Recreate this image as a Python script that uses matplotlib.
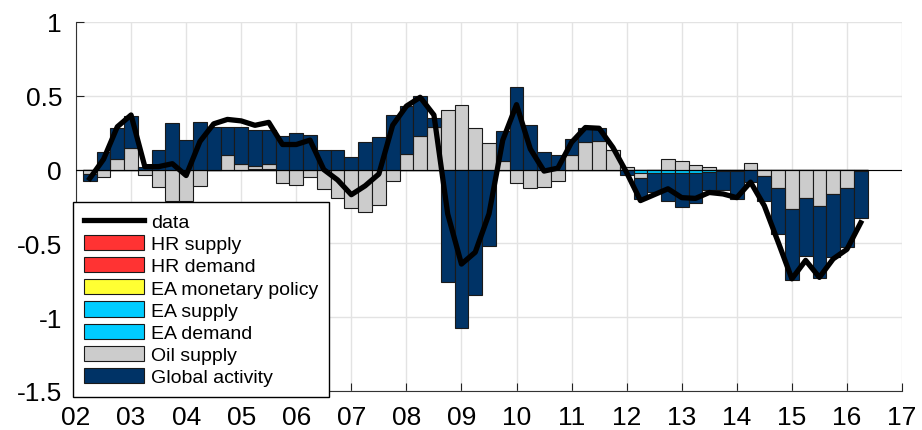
import matplotlib.pyplot as plt
import numpy as np

plt.rcParams["font.family"] = ["Liberation Sans", "DejaVu Sans"]

# quarterly dates, 2002Q2 .. 2016Q2
quarters = np.arange(2002.25, 2016.3, 0.25)

global_activity = [-0.05, 0.12, 0.21, 0.215, 0.02, 0.13, 0.315, 0.2, 0.32, 0.29,
                   0.19, 0.25, 0.24, 0.23, 0.23, 0.25, 0.235, 0.135, 0.135, 0.085,
                   0.185, 0.22, 0.37, 0.325, 0.27, 0.06, -0.76, -1.075, -0.85, -0.52,
                   0.2, 0.557, 0.30, 0.12, 0.1, 0.11, 0.1, 0.085, 0.0, -0.03,
                   -0.145, -0.13, -0.19, -0.23, -0.2, -0.125, -0.13, -0.19, -0.08, -0.17,
                   -0.31, -0.48, -0.39, -0.49, -0.43, -0.4, -0.32]
oil_supply = [-0.03, -0.05, 0.075, 0.147, -0.035, -0.12, -0.215, -0.21, -0.11, 0.0,
              0.1, 0.04, 0.02, 0.03, -0.09, -0.105, -0.05, -0.13, -0.19, -0.26,
              -0.29, -0.24, -0.075, 0.105, 0.23, 0.29, 0.405, 0.44, 0.28, 0.18,
              0.06, -0.093, -0.124, -0.12, -0.08, 0.1, 0.185, 0.195, 0.135, 0.02,
              -0.035, 0.0, 0.072, 0.056, 0.03, 0.015, 0.0, 0.0, 0.045, -0.04,
              -0.12, -0.27, -0.19, -0.24, -0.16, -0.125, 0.0]
ea_demand = [0.0, 0.0, 0.0, 0.0, 0.0, 0.0, 0.0, 0.0, 0.0, 0.0,
             0.0, 0.0, 0.005, 0.005, 0.0, 0.0, 0.0, 0.0, 0.0, 0.0,
             0.0, 0.0, 0.0, 0.0, 0.0, 0.0, 0.0, 0.0, 0.0, 0.0,
             0.0, 0.0, 0.0, 0.0, 0.0, 0.0, 0.0, 0.0, 0.0, -0.005,
             -0.02, -0.025, -0.025, -0.025, -0.025, -0.015, -0.01, -0.01, -0.005, 0.0,
             -0.005, 0.0, -0.005, -0.005, -0.005, 0.0, -0.01]
ea_supply = [0.0] * 57
ea_monetary = [0.0] * 57
hr_demand = [0.0] * 57
hr_supply = [0.0] * 57

data = [-0.06, 0.07, 0.29, 0.37, 0.02, 0.02, 0.04, -0.04, 0.19, 0.31,
        0.34, 0.33, 0.3, 0.32, 0.17, 0.17, 0.2, 0.0, -0.07, -0.17,
        -0.11, -0.03, 0.3, 0.43, 0.49, 0.37, -0.3, -0.64, -0.56, -0.3,
        0.2, 0.44, 0.14, -0.01, 0.01, 0.185, 0.285, 0.28, 0.15, -0.02,
        -0.21, -0.17, -0.13, -0.19, -0.195, -0.155, -0.165, -0.19, -0.085, -0.245,
        -0.49, -0.74, -0.615, -0.73, -0.605, -0.54, -0.36]

series = [("HR supply", hr_supply, "#ff3333"),
          ("HR demand", hr_demand, "#ff3333"),
          ("EA monetary policy", ea_monetary, "#ffff33"),
          ("EA supply", ea_supply, "#00ccff"),
          ("EA demand", ea_demand, "#00ccff"),
          ("Oil supply", oil_supply, "#cccccc"),
          ("Global activity", global_activity, "#003366")]

year_ticks = np.arange(2002, 2018)
year_labels = ["02", "03", "04", "05", "06", "07", "08", "09",
               "10", "11", "12", "13", "14", "15", "16", "17"]
y_ticks = [-1.5, -1, -0.5, 0, 0.5, 1]
y_labels = ["-1.5", "-1", "-0.5", "0", "0.5", "1"]

fig = plt.figure(figsize=(9.22, 4.31), dpi=100)
ax = fig.add_axes([76 / 922, 39 / 431, 826 / 922, 369 / 431])

pos_bottom = np.zeros(len(quarters))
neg_bottom = np.zeros(len(quarters))
handles = []
for name, vals, col in series:
    vals = np.array(vals)
    bottom = np.where(vals >= 0, pos_bottom, neg_bottom)
    b = ax.bar(quarters, vals, width=0.25, bottom=bottom, color=col,
               edgecolor="#1a1a1a", linewidth=0.8, label=name, zorder=2)
    handles.append(b)
    pos_bottom = pos_bottom + np.where(vals >= 0, vals, 0)
    neg_bottom = neg_bottom + np.where(vals < 0, vals, 0)

ax.axhline(0, color="black", linewidth=0.8, zorder=3)
line, = ax.plot(quarters, data, color="black", linewidth=3.8, label="data", zorder=4)

ax.set_xlim(2002, 2017)
ax.set_ylim(-1.5, 1)
ax.set_xticks(year_ticks)
ax.set_xticklabels(year_labels)
ax.set_yticks(y_ticks)
ax.set_yticklabels(y_labels)
ax.tick_params(direction="in", length=6, labelsize=19, colors="#222222")
ax.tick_params(axis="x", pad=10)
ax.tick_params(axis="y", pad=10)
for lab in ax.get_xticklabels() + ax.get_yticklabels():
    lab.set_color("black")
ax.grid(True, color="#e3e3e3", linewidth=1.0, zorder=0)
ax.set_axisbelow(True)
ax.spines["top"].set_visible(False)
ax.spines["right"].set_visible(False)
ax.spines["left"].set_color("#333333")
ax.spines["bottom"].set_color("#333333")

leg = ax.legend([line] + handles, ["data"] + [s[0] for s in series],
                loc="upper left", bbox_to_anchor=(73 / 922, 1 - 203 / 431),
                bbox_transform=fig.transFigure, borderaxespad=0,
                fontsize=14, handlelength=3.1, handleheight=0.82,
                labelspacing=0.2, handletextpad=0.35, borderpad=0.55,
                fancybox=False, framealpha=1, edgecolor="black")
leg.get_frame().set_linewidth(1.0)

plt.savefig("out.png", dpi=100)
plt.close()
